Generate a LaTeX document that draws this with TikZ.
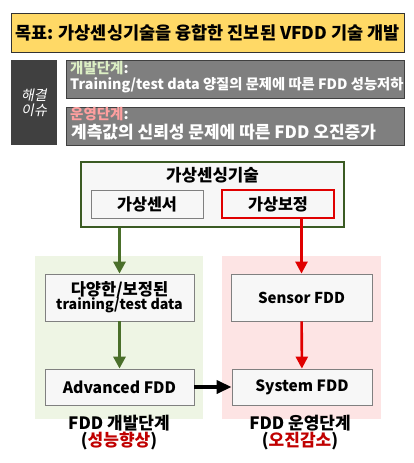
\documentclass[tikz,border=0pt]{standalone}
\usepackage{fontspec}
\setmainfont{Noto Sans CJK KR}
\newfontfamily\slantkr{Noto Sans CJK KR}[FakeSlant=0.2]
\usetikzlibrary{arrows.meta}
\definecolor{goalyellow}{HTML}{FFD966}
\definecolor{issuedark}{HTML}{404040}
\definecolor{issuegray}{HTML}{7F7F7F}
\definecolor{devtext}{HTML}{DCEFC4}
\definecolor{optext}{HTML}{FF9F9F}
\definecolor{vsgreen}{HTML}{3B5B23}
\definecolor{arrgreen}{HTML}{4A6F2A}
\definecolor{arrred}{HTML}{E00000}
\definecolor{capred}{HTML}{C00000}
\definecolor{devbg}{HTML}{EEF5E4}
\definecolor{opbg}{HTML}{FDE4E4}
\definecolor{boxfill}{HTML}{F7F7F7}
\newcommand{\fsz}[1]{\fontsize{#1}{#1}\selectfont}

\begin{document}
\begin{tikzpicture}[x=1pt,y=-1pt,
   box/.style={draw=black!50,fill=boxfill,line width=0.8pt,inner sep=0pt,
      align=center,font=\bfseries\fsz{15}},
   issue/.style={draw=black!75,fill=issuegray,line width=1pt,
      minimum width=338pt,minimum height=38pt},
   issuetext/.style={anchor=base west,inner sep=0pt,text=white,font=\bfseries},
   phase/.style={draw=none,inner sep=0pt},
   caption/.style={align=center,font=\bfseries\fsz{17}},
   flow/.style={line width=3pt,-{Triangle[length=12pt,width=12pt]}}]
   \useasboundingbox (0,0) rectangle (414,463);
   \node[draw=black!80,fill=goalyellow,line width=1pt,minimum width=393pt,
      minimum height=39pt,font=\bfseries\fsz{17.5}] (goal) at (207.5,32.5)
      {목표: 가상센싱기술을 융합한 진보된 VFDD 기술 개발};
   \node[fill=issuedark,minimum width=46pt,minimum height=85pt,inner sep=0pt,
      text=white,align=center,font=\slantkr\fsz{14}] (issue) at (34,102.5)
      {해결\\[1pt]이슈};
   \node[issue] (devissue) at (235,79) {};
   \node[issue] (opissue) at (235,126) {};
   \node[issuetext,font=\bfseries\fsz{14.5}] (devhead) at (70,73.5) {\textcolor{devtext}{개발단계}:};
   \node[issuetext,font=\bfseries\fsz{14.3}] (devline) at (70,89.5) {Training/test data 양질의 문제에 따른 FDD 성능저하};
   \node[issuetext,font=\bfseries\fsz{14.5}] (ophead) at (70,119.5) {\textcolor{optext}{운영단계}:};
   \node[issuetext,font=\bfseries\fsz{17}] (opline) at (71,138) {계측값의 신뢰성 문제에 따른 FDD 오진증가};
   \node[phase,fill=devbg,minimum width=168pt,minimum height=163pt] (devbg) at (119,337.5) {};
   \node[phase,fill=opbg,minimum width=159pt,minimum height=163pt] (opbg) at (301.5,337.5) {};
   \node[box,draw=vsgreen,line width=1.6pt,minimum width=263pt,minimum height=65pt] (vs) at (212.5,194.5) {};
   \node[font=\bfseries\fsz{16.8}] (vstitle) at (212.5,175) {가상센싱기술};
   \node[box,minimum width=112pt,minimum height=28pt,font=\bfseries\fsz{16.3}] (vsensor) at (147,204) {가상센서};
   \node[box,draw=arrred,line width=1.6pt,minimum width=112pt,minimum height=28pt,font=\bfseries\fsz{16.3}] (vcalib) at (278,204) {가상보정};
   \node[box,minimum width=149pt,minimum height=47pt] (data) at (119.5,297.5)
      {{\fsz{16.5}다양한/보정된}\\[-1pt]{\fsz{14.2}training/test data}};
   \node[box,minimum width=141pt,minimum height=47pt] (sensorfdd) at (301.5,297.5) {Sensor FDD};
   \node[box,minimum width=149pt,minimum height=36pt,font=\bfseries\fsz{15.7}] (advfdd) at (119.5,387) {Advanced FDD};
   \node[box,minimum width=140pt,minimum height=36pt,font=\bfseries\fsz{15.5}] (sysfdd) at (302,387) {System FDD};
   \node[caption] (devcap) at (119,433) {FDD 개발단계\\[0pt](\textcolor{capred}{성능향상})};
   \node[caption] (opcap) at (300,433) {FDD 운영단계\\[0pt](\textcolor{capred}{오진감소})};
   \draw[flow,arrgreen] (data.north |- vs.south) -- (data.north);
   \draw[flow,arrgreen] (data) -- (advfdd);
   \draw[flow,arrred,line width=2.6pt] (sensorfdd.north |- vcalib.south) -- (sensorfdd.north);
   \draw[flow,arrred,line width=2.6pt] (sensorfdd) -- (sysfdd);
   \draw[flow,black,line width=3.5pt,-{Triangle[length=15pt,width=13pt]}] (advfdd) -- (sysfdd);
\end{tikzpicture}
\end{document}
